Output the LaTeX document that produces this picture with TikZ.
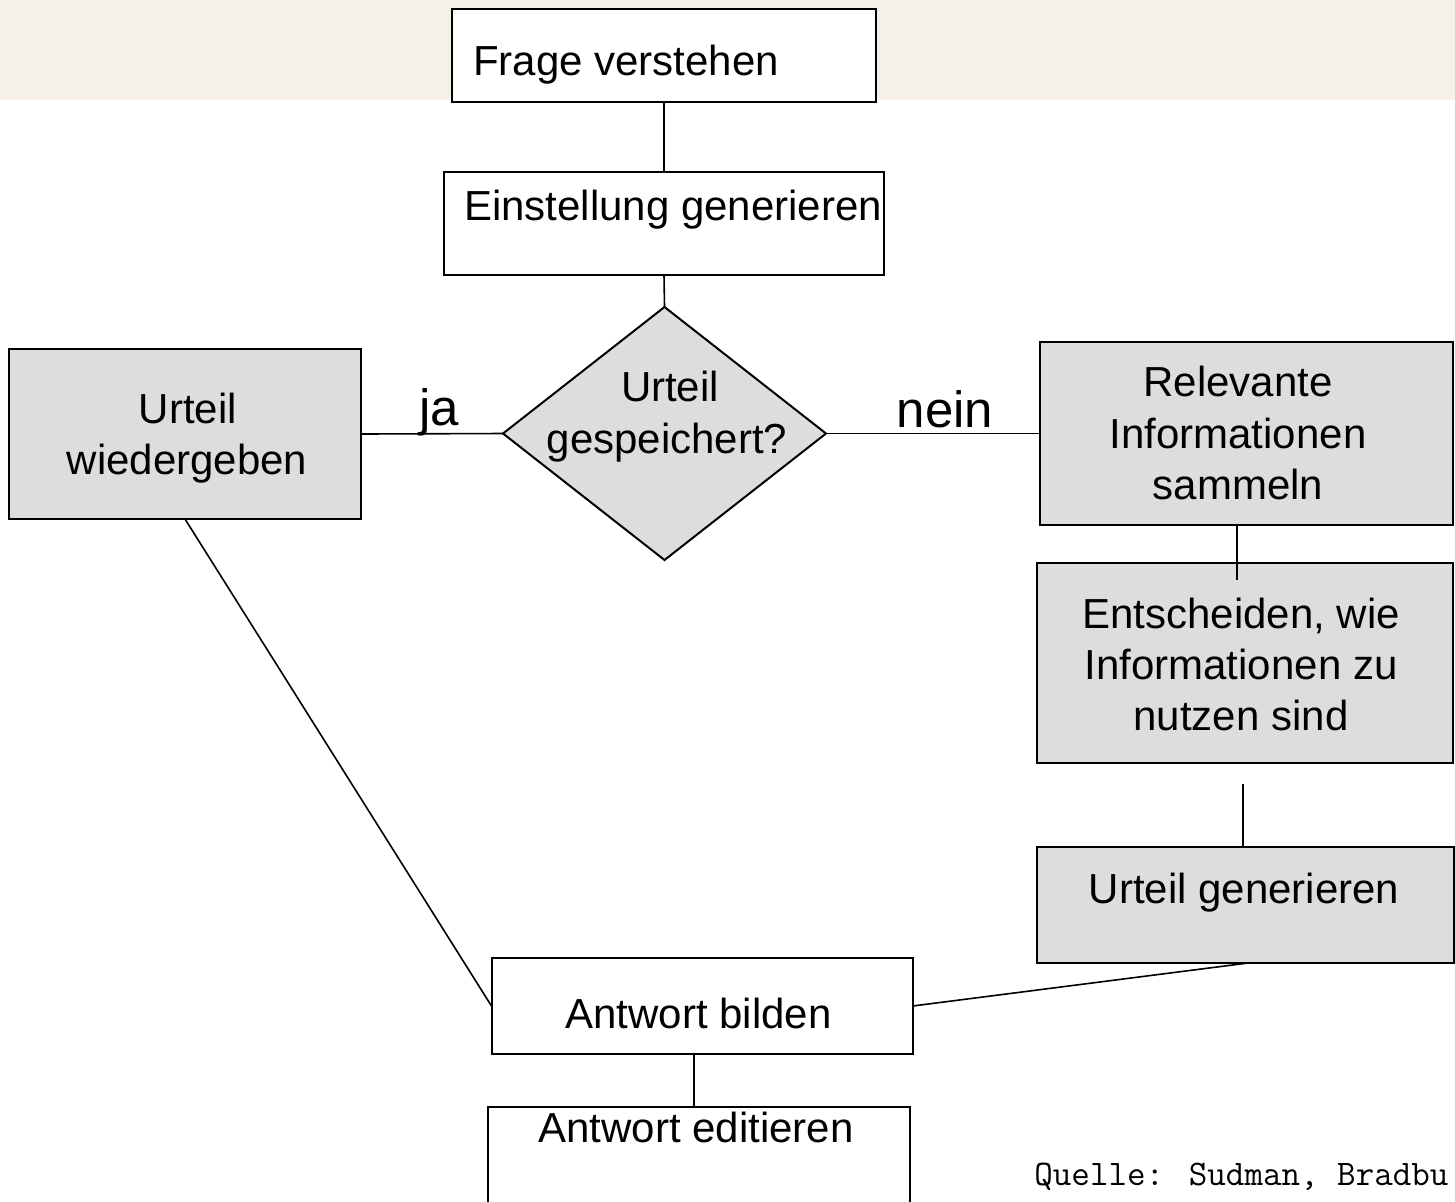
\documentclass[tikz,border=0pt]{standalone}
\usepackage{fontspec}
\setmainfont{Liberation Sans}
\usetikzlibrary{shapes.geometric}
\definecolor{cream}{HTML}{F6F1E7}
\definecolor{boxgray}{HTML}{DDDDDD}
\tikzset{
  boxw/.style={draw=black, line width=1pt, fill=white, inner sep=0pt, outer sep=0pt},
  boxg/.style={draw=black, line width=1pt, fill=boxgray, inner sep=0pt, outer sep=0pt},
  txt/.style={inner sep=0pt, outer sep=0pt, anchor=base, font=\fontsize{21}{25}\selectfont},
  lbl/.style={inner sep=0pt, outer sep=0pt, anchor=base, font=\fontsize{25.5}{30}\selectfont},
  conn/.style={draw=black, line width=0.8pt},
}
\begin{document}
\begin{tikzpicture}[x=0.5pt, y=-0.5pt]
\useasboundingbox (0,0) rectangle (1455,1201);
\clip (0,0) rectangle (1455,1201);
\fill[white] (0,0) rectangle (1455,1201);
\fill[cream] (0,0) rectangle (1455,100);

% boxes
\node[boxw, minimum width=212pt, minimum height=46.5pt] (frage) at (664,55.5) {};
\node[txt, anchor=base west] (tfrage) at (473,75) {Frage verstehen};

\node[boxw, minimum width=220pt, minimum height=51.5pt] (einst) at (664,223.5) {};
\node[txt] (teinst) at (673,220) {Einstellung generieren};

\node[diamond, draw=black, line width=1pt, fill=boxgray, inner sep=0pt, outer sep=0pt,
      minimum width=161.5pt, minimum height=126.5pt] (dia) at (664.5,433.5) {};
\node[txt] (tdia1) at (670,401) {Urteil};
\node[txt] (tdia2) at (667,453) {gespeichert?};

\node[boxg, minimum width=176pt, minimum height=85pt] (urteilw) at (185,434) {};
\node[txt] (turw1) at (188,423) {Urteil};
\node[txt] (turw2) at (187,474) {wiedergeben};

\node[boxg, minimum width=206.5pt, minimum height=91.5pt] (relev) at (1246.5,433.5) {};
\node[txt] (trel1) at (1238,396) {Relevante};
\node[txt] (trel2) at (1238,448) {Informationen};
\node[txt] (trel3) at (1238,499) {sammeln};

\node[boxg, minimum width=208pt, minimum height=100pt] (entsch) at (1245,663) {};
\node[txt] (tent1) at (1241,628) {Entscheiden, wie};
\node[txt] (tent2) at (1241,679) {Informationen zu};
\node[txt] (tent3) at (1241,730) {nutzen sind};

\node[boxg, minimum width=208.5pt, minimum height=58pt] (urteilg) at (1245.5,905) {};
\node[txt] (turg) at (1244,903) {Urteil generieren};

\node[boxw, minimum width=210.5pt, minimum height=48pt] (antwb) at (702,1006) {};
\node[txt] (tantb) at (698.5,1028) {Antwort bilden};

\node[boxw, minimum width=211pt, minimum height=51.5pt] (antwe) at (699,1158.5) {};
\node[txt] (tante) at (696,1142) {Antwort editieren};

% labels
\node[lbl, anchor=base west] (ja) at (419,425) {ja};
\node[lbl] (nein) at (945,427) {nein};

\node[inner sep=0pt, anchor=base west, font=\ttfamily\fontsize{18}{21}\selectfont] (quelle) at (1034,1185) {Quelle: Sudman, Bradbu};

% connectors
\draw[conn] (frage.south) -- (einst.north);
\draw[conn] (einst.south) -- (dia.north);
\draw[conn] (urteilw.east) -- (dia.west);
\draw[conn] (dia.east) -- (relev.west);
\coordinate (c1) at (1237,580);
\draw[conn] (c1 |- relev.south) -- (c1);
\coordinate (c2) at (1243,784);
\draw[conn] (c2 |- urteilg.north) -- (c2);
\coordinate (c3) at (1248,963);
\draw[conn] (c3 |- urteilg.south) -- (antwb.east);
\draw[conn] (urteilw.south) -- (antwb.west);
\coordinate (c4) at (694,1080);
\draw[conn] (c4 |- antwb.south) -- (c4 |- antwe.north);
\end{tikzpicture}
\end{document}
